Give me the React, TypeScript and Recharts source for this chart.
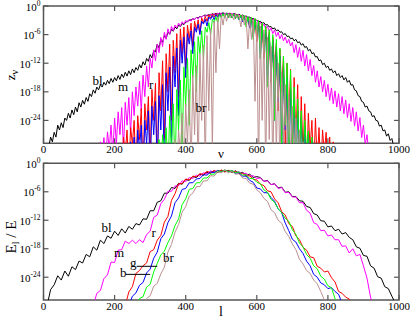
import { LineChart, Line, XAxis, YAxis, ReferenceArea, ReferenceLine } from 'recharts'

const FONT = '"Liberation Serif", "Times New Roman", serif'
const AXIS = '#555'
const Y_MIN = -28.8
const PLOT_W = 355.5

const xTicks = [0, 200, 400, 600, 800, 1000]
const yTicks = [-24, -18, -12, -6, 0]

// upper panel: log10 z_nu, one value every 5 in nu
const topStep = 5
const topBl = [
  -29.5, -27.5, -28.5, -26.5, -27.5, -25, -26, -24.5, -25.5, -23.5,
  -24, -22.5, -23.5, -21.8, -22.8, -21.2, -22.2, -20.3, -21.2, -19.8,
  -20.6, -19.2, -20, -18.4, -19, -17.6, -18.3, -17, -17.6, -16.5,
  -17, -16, -16.6, -15.6, -16.3, -15.2, -16, -15, -15.7, -14.6,
  -15.4, -14.3, -15, -13.9, -14.7, -13.6, -14.4, -13.2, -14, -12.9,
  -13.5, -12.3, -13, -11.7, -12.4, -11, -11.6, -10.2, -10.9, -9.4,
  -9.6, -8, -8.8, -7, -7.6, -6.2, -6.8, -5.5, -5.9, -4.9,
  -5.3, -4.4, -4.8, -4, -4.3, -3.7, -3.9, -3.4, -3.2, -3.0,
  -2.9, -2.7, -2.8, -2.4, -2.5, -2.2, -2.3, -2.0, -1.9, -2.1,
  -1.8, -1.9, -1.6, -1.8, -1.5, -1.7, -1.5, -1.6, -1.4, -1.7,
  -1.5, -1.6, -1.5, -1.8, -1.6, -1.7, -1.9, -1.7, -2.0, -1.9,
  -2.2, -2.1, -2.4, -2.3, -2.7, -2.6, -2.9, -3.0, -3.3, -3.2,
  -3.6, -3.5, -4.0, -3.9, -4.4, -4.3, -4.8, -4.6, -5.2, -5.0,
  -5.5, -5.4, -6.0, -5.8, -6.4, -6.3, -6.9, -6.7, -7.3, -7.0,
  -7.7, -7.5, -8.2, -7.9, -8.7, -8.5, -9.4, -9.1, -10.0, -9.8,
  -10.7, -10.6, -11.5, -11.3, -12.3, -12.0, -12.9, -12.6, -13.5, -13.2,
  -14.0, -13.6, -14.6, -14.2, -15.0, -14.6, -15.5, -15.0, -16.0, -15.6,
  -16.6, -16.5, -17.6, -17.8, -18.8, -19.0, -20.0, -20.2, -21.2, -21.0,
  -22.0, -22.2, -23.2, -23.0, -24.0, -24.1, -25.2, -25.0, -26.2, -26.0,
  -27.3, -26.8, -28.2, -27.8, -29.5, -30,
]
const topM = [
  -31, -28.5, -31, -27.6, -32, -26.4, -30, -25, -31, -23.5,
  -29, -22.2, -27, -21.3, -30, -20.2, -25, -19.2, -27, -18,
  -23, -17, -21, -15.8, -22, -14.5, -19, -12.6, -17, -11,
  -13, -9.2, -11.5, -8, -9.8, -6.6, -8.5, -5.5, -7, -4.8,
  -6, -4.3, -5.2, -4.0, -4.6, -3.6, -4.2, -3.3, -3.8, -3.0,
  -3.4, -2.8, -3.2, -2.6, -2.9, -2.4, -2.7, -2.2, -2.4, -2.0,
  -2.2, -1.8, -2.1, -1.7, -1.9, -1.6, -1.8, -1.5, -1.7, -1.5,
  -1.7, -1.5, -1.8, -1.6, -1.7, -1.6, -1.9, -1.7, -2.0, -1.8,
  -2.2, -2.0, -2.4, -2.2, -2.7, -2.5, -3.0, -2.7, -3.3, -3.0,
  -3.8, -3.4, -4.3, -3.8, -4.8, -4.2, -5.3, -4.6, -5.8, -5.0,
  -6.4, -5.5, -6.9, -6.0, -7.3, -6.5, -7.8, -7.0, -8.4, -7.6,
  -9.8, -8.1, -10.8, -8.7, -11.6, -9.3, -12.6, -10.2, -13.6, -11.2,
  -14.6, -12.5, -16, -13.6, -17, -14.8, -18, -15.6, -19, -16.4,
  -19.8, -17.2, -20.5, -17.8, -21.2, -18.4, -22, -19.0, -22.6, -19.7,
  -23.4, -20.5, -24.2, -21.3, -25.2, -22.2, -26.2, -23.4, -27.6, -25,
  -29, -27, -31,
]
const topR = [
  -35, -27.5, -31, -26, -35, -25.5, -29, -24, -35, -23,
  -28, -21.5, -35, -20.5, -26, -19, -32, -17.5, -24, -16.2,
  -35, -14, -22, -11.5, -28, -10, -18, -8, -24, -7.2,
  -14, -5.8, -19, -4.8, -10, -4.4, -13, -4.0, -7, -3.6,
  -8.5, -3.2, -5, -2.9, -5.5, -2.5, -3.5, -2.2, -3.2, -1.9,
  -2.5, -1.7, -2.3, -1.6, -2.2, -1.5, -2.1, -1.5, -2.3, -1.6,
  -2.2, -1.6, -2.4, -1.7, -2.5, -1.8, -2.7, -1.9, -3, -2.1,
  -3.4, -2.3, -4.6, -2.5, -4.2, -2.7, -7.5, -3.2, -6.5, -3.8,
  -11, -4.5, -9.5, -5.4, -16, -6.5, -13, -7.8, -22, -9,
  -18, -10.5, -30, -12, -24, -13.3, -35, -15, -28, -16.5,
  -35, -19, -31, -20.5, -35, -22.5, -30, -24, -35, -23.5,
  -33, -25.5, -35, -26, -31, -26.5, -35, -27.5, -35, -28.5,
  -35,
]
const topB = [
  -35, -28.5, -32, -27.5, -35, -26, -30, -25, -35, -24,
  -29, -22, -35, -21, -27, -20, -35, -18.8, -26, -16.5,
  -35, -14, -22, -12.8, -30, -10.5, -17, -8.8, -23, -7.2,
  -12, -6.5, -15, -5.8, -8, -5.2, -10, -4.4, -5.5, -3.8,
  -6, -3.2, -3.8, -2.8, -4.2, -2.3, -2.8, -2.0, -2.9, -1.8,
  -2.4, -1.6, -2.3, -1.5, -2.2, -1.6, -2.4, -1.7, -2.5, -1.8,
  -2.6, -1.9, -2.9, -2.1, -3.3, -2.2, -3.8, -2.4, -4.6, -2.6,
  -6.5, -2.9, -5.5, -3.5, -11, -4.2, -9, -5, -17, -6,
  -14, -7.2, -24, -8.6, -20, -10.5, -31, -12.5, -26, -15,
  -35, -17.5, -30, -19.5, -35, -22, -31, -23.5, -35, -25.5,
  -33, -27, -35, -28.3, -35, -29.5, -35,
]
const topG = [
  -35, -29, -33, -28, -35, -27, -31, -25.5, -35, -23,
  -30, -20.5, -35, -17.5, -26, -15.5, -32, -12.8, -21, -11,
  -25, -9.2, -15, -7.5, -18, -6.4, -10, -5.2, -11, -4.4,
  -5.5, -3.5, -6, -2.8, -3.5, -2.2, -3.6, -1.8, -2.5, -1.6,
  -2.5, -1.5, -2.4, -1.6, -2.5, -1.7, -2.6, -1.8, -2.8, -1.9,
  -3.0, -2.0, -4.4, -2.2, -4.0, -2.4, -7, -2.6, -6, -3.0,
  -11, -3.6, -9.5, -4.2, -17, -5, -14, -6, -24, -7,
  -19, -8.8, -31, -10.5, -25, -12, -35, -13.5, -30, -17,
  -35, -19.5, -32, -22, -35, -24, -31, -26.2, -35, -27.5,
  -35, -29, -35,
]
const topBr = [
  -35, -30, -33, -28, -35, -26, -31, -22.5, -35, -20.5,
  -29, -17.5, -35, -14.5, -27, -12.5, -35, -10, -24, -8.2,
  -35, -6.2, -22, -4.7, -30, -3.2, -14, -2.3, -9, -1.8,
  -4, -1.6, -3.2, -1.7, -2.5, -1.7, -2.9, -1.8, -2.6, -1.9,
  -4.4, -2.0, -4, -2.3, -9, -2.6, -7, -3.0, -20, -3.4,
  -35, -4.2, -24, -5, -35, -6.5, -28, -8.5, -35, -10.3,
  -31, -12, -35, -13.8, -29, -16.5, -35, -18.7, -32, -21,
  -35, -23.5, -33, -26, -35, -28.5,
]

// lower panel: log10 E_l / E, one value every 10 in l
const botStep = 10
const botBl = [
  -30, -26.6, -25.6, -23.7, -24.6, -22.7, -23.8, -21.8, -22.4, -20.6,
  -21, -19.2, -19.7, -17.6, -18.3, -16.2, -16.9, -15.3, -15.8, -14.3,
  -15.2, -13.8, -14.7, -13.3, -13.9, -12.7, -13, -11.7, -11.8, -10,
  -10, -8.2, -7.9, -6.3, -6.3, -5.1, -5.3, -4.2, -4.4, -3.4,
  -3.6, -2.8, -3.0, -2.3, -2.5, -1.9, -2.1, -1.6, -1.9, -1.5,
  -1.8, -1.5, -1.9, -1.6, -2.1, -1.9, -2.5, -2.3, -3.0, -2.8,
  -3.0, -3.8, -3.6, -4.5, -4.3, -5.2, -5.0, -6.1, -6.0, -7.0,
  -7.0, -7.9, -8.0, -9.1, -9.3, -10.6, -10.9, -12.1, -12.2, -13.4,
  -13.2, -14.2, -13.9, -14.9, -14.6, -15.6, -16.1, -17.6, -17.9, -19.4,
  -19.6, -21.6, -22.1, -23.9, -24.2, -26, -26.4, -28, -29.5,
]
const botM = [
  -30, -27.4, -26.8, -24.3, -23.5, -20.8, -20.9, -18.3, -18.2, -16.4,
  -16.9, -16.2, -16.9, -16.1, -16.7, -15, -14.3, -11.4, -10.9, -8.5,
  -7.6, -5.9, -5.9, -4.8, -4.7, -3.7, -3.9, -3.0, -3.2, -2.5,
  -2.7, -2.0, -2.2, -1.6, -1.9, -1.5, -1.8, -1.4, -1.8, -1.5,
  -1.9, -1.8, -2.2, -2.1, -2.7, -2.6, -3.2, -3.1, -3.8, -3.7,
  -4.5, -4.3, -5.3, -5.1, -6.2, -6.1, -7.1, -7.1, -8.3, -8.3,
  -9.9, -10.5, -12.5, -12.9, -14.2, -14.1, -15.3, -15.1, -16.1, -16.1,
  -17.5, -17.4, -18.9, -18, -19.5, -19.2, -21.6, -24.2, -28.2, -31,
]
const botR = [
  -30, -27.1, -26, -23.2, -22.6, -21.6, -21, -18.6, -18.2, -16.2,
  -15.2, -12.4, -11.2, -7.8, -6.4, -4.3, -4.3, -3.3, -3.5, -2.7,
  -2.8, -2.2, -2.3, -1.7, -2.0, -1.5, -1.9, -1.4, -1.8, -1.6,
  -1.8, -1.7, -2.2, -2.1, -2.7, -2.6, -3.4, -3.5, -4.4, -4.7,
  -5.8, -6.0, -7.5, -8.3, -10.2, -10.9, -12.7, -13.3, -15.3, -16.1,
  -17.7, -18.3, -19.7, -19.9, -21.7, -22.1, -22.9, -22.7, -24.1, -25,
  -27, -27.4, -28.2, -28.6, -31,
]
const botB = [
  -30, -28, -27.3, -25.7, -25.1, -23.1, -22.3, -20, -18.7, -15.9,
  -14.9, -12.5, -11.1, -8.3, -7.3, -5.5, -5.3, -4.1, -4.1, -3.3,
  -3.2, -2.4, -2.5, -1.8, -2.0, -1.5, -1.8, -1.5, -1.8, -1.6,
  -2.1, -2.0, -2.7, -2.7, -3.6, -4.0, -5.2, -5.4, -6.2, -6.2,
  -7.2, -8.0, -9.6, -10.4, -12.6, -14.2, -16, -16.6, -18, -19,
  -20.6, -21.6, -23.4, -24, -25.2, -25.6, -26.4, -26.2, -27, -27.6,
  -29.5,
]
const botG = [
  -30.5, -28.5, -28.1, -26.1, -25.5, -22.9, -21.1, -19.3, -18.5, -16.7,
  -15.3, -13.1, -11.7, -8.7, -7.5, -5.5, -5.3, -4.1, -4.1, -3.1,
  -3.1, -2.3, -2.3, -1.6, -1.8, -1.4, -1.8, -1.5, -2.0, -1.8,
  -2.5, -2.4, -3.2, -3.2, -4.0, -4.3, -5.6, -6.1, -7.6, -8.2,
  -9.6, -10.4, -11.6, -12.2, -14, -15, -16.8, -17.6, -19.2, -20,
  -21.6, -22.2, -23.8, -24.4, -25.8, -26.2, -28.5, -31,
]
const botBr = [
  -30.5, -28.5, -27.9, -25.9, -25.3, -23.3, -21.9, -18.7, -17.1, -14.5,
  -12.9, -10.3, -9.1, -6.9, -6.3, -4.9, -4.9, -3.7, -3.7, -2.6,
  -2.7, -1.8, -2.0, -1.5, -2.0, -1.7, -2.3, -2.2, -3.1, -3.2,
  -4.2, -4.4, -5.6, -6.2, -7.4, -8.0, -9.8, -10.4, -12, -12.6,
  -14.4, -15.4, -17, -18.2, -20.2, -21.2, -22.6, -23.2, -24.6, -25.4,
  -27, -28.8, -31,
]

const colors = ['#000000', '#ff00ff', '#ff0000', '#0000ff', '#00ff00', '#bc8f8f']

type Series = { from: number; vals: number[] }

const topSeries: Series[] = [
  { from: 15, vals: topBl },
  { from: 155, vals: topM },
  { from: 220, vals: topR },
  { from: 240, vals: topB },
  { from: 310, vals: topG },
  { from: 355, vals: topBr },
]
const botSeries: Series[] = [
  { from: 10, vals: botBl },
  { from: 140, vals: botM },
  { from: 230, vals: botR },
  { from: 240, vals: botB },
  { from: 260, vals: botG },
  { from: 280, vals: botBr },
]

const pts = (from: number, step: number, vals: number[]) => vals.map((v, i) => ({ x: from + i * step, v }))

function Panel({ height, marginTop, axisH, series, step, children }: any) {
  const plotH = height - marginTop - axisH

  const xTick = ({ x, y, payload }: any) => (
    <g>
      <line x1={x} x2={x} y1={y} y2={y - 5} stroke={AXIS} strokeWidth={1.2} />
      <line x1={x} x2={x} y1={y - plotH} y2={y - plotH + 5} stroke={AXIS} strokeWidth={1.2} />
      <text x={x} y={y + 10} textAnchor="middle" fontSize={11} fontFamily={FONT} fill="#000">{payload.value}</text>
    </g>
  )
  const yTick = ({ x, y, payload }: any) => (
    <g>
      <line x1={x} x2={x + 5} y1={y} y2={y} stroke={AXIS} strokeWidth={1.2} />
      <line x1={x + PLOT_W} x2={x + PLOT_W - 5} y1={y} y2={y} stroke={AXIS} strokeWidth={1.2} />
      <text x={x - 3} y={y + 4.5} textAnchor="end" fontSize={11} fontFamily={FONT} fill="#000">
        10<tspan dy={-5} fontSize={7.5}>{payload.value}</tspan>
      </text>
    </g>
  )

  return (
    <LineChart width={411} height={height} margin={{ top: marginTop, right: 12, bottom: 0, left: 0 }}>
      <XAxis dataKey="x" type="number" domain={[0, 1000]} ticks={xTicks} interval={0} allowDataOverflow
        height={axisH} tickSize={0} tickMargin={0} axisLine={false} tickLine={false} tick={xTick} />
      <YAxis type="number" domain={[Y_MIN, 0]} ticks={yTicks} interval={0} allowDataOverflow
        width={43.5} tickSize={0} tickMargin={0} axisLine={false} tickLine={false} tick={yTick} />
      {series.map((s: Series, i: number) => (
        <Line key={i} data={pts(s.from, step, s.vals)} dataKey="v" type="linear" stroke={colors[i]}
          strokeWidth={1} dot={false} activeDot={false} isAnimationActive={false} />
      ))}
      {children}
      <ReferenceArea x1={0} x2={1000} y1={Y_MIN} y2={0} fill="none" stroke={AXIS} strokeWidth={1.5} ifOverflow="visible" />
    </LineChart>
  )
}

const lbl = { fontSize: 13, fontFamily: FONT, fill: '#000' }

export default function App() {
  return (
    <div style={{ position: 'absolute', left: 0, top: 0, width: 411, height: 319, background: '#fff' }}>
      <div style={{ position: 'absolute', left: 0, top: 0 }}>
        <Panel height={160} marginTop={6} axisH={16.7} series={topSeries} step={topStep} />
      </div>
      <div style={{ position: 'absolute', left: 0, top: 150 }}>
        <Panel height={169} marginTop={13.3} axisH={19} series={botSeries} step={botStep}>
          <ReferenceLine segment={[{ x: 262, y: -21.7 }, { x: 320, y: -21.7 }]} stroke="#000" strokeWidth={1} />
          <ReferenceLine segment={[{ x: 232, y: -23.4 }, { x: 300, y: -23.4 }]} stroke="#000" strokeWidth={1} />
        </Panel>
      </div>
      <svg width={411} height={319} style={{ position: 'absolute', left: 0, top: 0, pointerEvents: 'none' }}>
        <text x={15} y={75} transform="rotate(-90 15 75)" textAnchor="middle" {...lbl}>
          z<tspan dy={3} fontSize={10}>ν</tspan>
        </text>
        <text x={221} y={158} textAnchor="middle" {...lbl}>ν</text>
        <text x={92.5} y={84.5} {...lbl}>bl</text>
        <text x={118} y={90.5} {...lbl}>m</text>
        <text x={149} y={89} {...lbl}>r</text>
        <text x={195.5} y={112} {...lbl}>br</text>

        <text x={16} y={237} transform="rotate(-90 16 237)" textAnchor="middle" {...lbl} fontSize={15}>
          E<tspan dy={3} fontSize={10}>l</tspan><tspan dy={-3}> / E</tspan>
        </text>
        <text x={221} y={316} textAnchor="middle" {...lbl} fontSize={14}>l</text>
        <text x={101.5} y={231.5} {...lbl}>bl</text>
        <text x={114} y={256.5} {...lbl}>m</text>
        <text x={151.5} y={236.5} {...lbl}>r</text>
        <text x={163} y={261.5} {...lbl}>br</text>
        <text x={130} y={266.5} {...lbl}>g</text>
        <text x={120} y={277.3} {...lbl}>b</text>
      </svg>
    </div>
  )
}
